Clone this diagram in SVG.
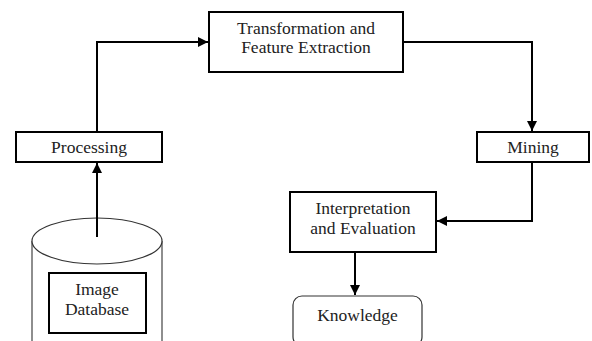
<svg xmlns="http://www.w3.org/2000/svg" width="592" height="341" viewBox="0 0 592 341">
<style>
.box{fill:#fff;stroke:#000;stroke-width:2}
.soft{fill:#fff;stroke:#333;stroke-width:1.2}
.t{font-family:'Liberation Serif','DejaVu Serif',serif;font-size:17.5px;fill:#222;text-anchor:middle}
.c{fill:none;stroke:#000;stroke-width:2}
</style>
<defs>
<marker id="ah" viewBox="0 0 10 10" refX="10" refY="5" markerWidth="10" markerHeight="10" markerUnits="userSpaceOnUse" orient="auto">
<path d="M0,0 L10,5 L0,10 Z" fill="#000"/>
</marker>
</defs>
<g id="image-database">
<path d="M32,241 L32,341 M162,241 L162,341" fill="none" stroke="#444" stroke-width="1.2"/>
<ellipse cx="97" cy="241" rx="65" ry="23" class="soft"/>
<rect x="49" y="273" width="97" height="60" class="box"/>
<text class="t" x="97" y="295">Image</text>
<text class="t" x="97" y="315">Database</text>
</g>
<g id="processing">
<rect x="16" y="132" width="146" height="30" class="box"/>
<text class="t" x="89" y="153">Processing</text>
</g>
<g id="transformation">
<rect x="209" y="12" width="194" height="60" class="box"/>
<text class="t" x="306" y="34">Transformation and</text>
<text class="t" x="306" y="53">Feature Extraction</text>
</g>
<g id="mining">
<rect x="477" y="132" width="112" height="30" class="box"/>
<text class="t" x="533" y="153">Mining</text>
</g>
<g id="interpretation">
<rect x="290" y="192" width="146" height="60" class="box"/>
<text class="t" x="363" y="214">Interpretation</text>
<text class="t" x="363" y="234">and Evaluation</text>
</g>
<g id="knowledge">
<rect x="293" y="296" width="129" height="50" rx="9" ry="9" class="soft"/>
<text class="t" x="357.5" y="321">Knowledge</text>
</g>
<g id="connectors">
<path class="c" d="M97,237 L97,163" marker-end="url(#ah)"/>
<path class="c" d="M97,132 L97,42 L208,42" marker-end="url(#ah)"/>
<path class="c" d="M403,42 L532,42 L532,131" marker-end="url(#ah)"/>
<path class="c" d="M532,162 L532,221 L437,221" marker-end="url(#ah)"/>
<path class="c" d="M355,252 L355,295" marker-end="url(#ah)"/>
</g>
</svg>
